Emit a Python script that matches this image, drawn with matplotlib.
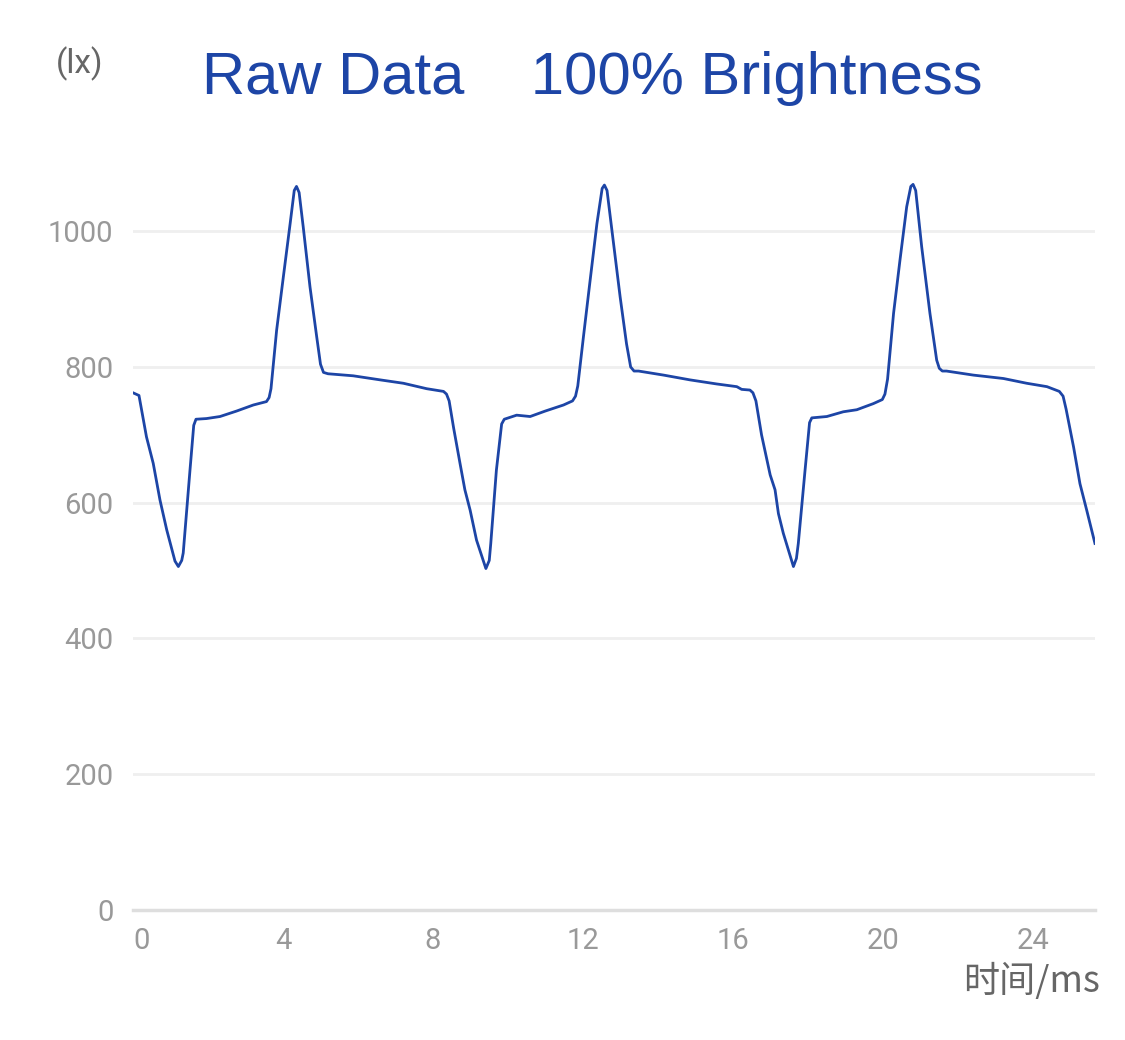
import matplotlib.pyplot as plt

# Time (ms) and illuminance (lx)
time_ms = [0.00, 0.16, 0.36, 0.54, 0.72, 0.90, 1.12, 1.21, 1.30, 1.34, 1.52, 1.62, 1.68,
           1.96, 2.32, 2.76, 3.21, 3.56, 3.63, 3.68, 3.83, 4.01, 4.19, 4.30, 4.36, 4.43,
           4.54, 4.72, 4.90, 5.00, 5.08, 5.20, 5.87, 6.59, 7.21, 7.83, 8.28, 8.36, 8.43,
           8.55, 8.72, 8.85, 8.99, 9.16, 9.41, 9.50, 9.54, 9.69, 9.83, 9.90, 10.23, 10.59,
           10.99, 11.48, 11.72, 11.80, 11.86, 12.01, 12.19, 12.37, 12.51, 12.57, 12.64, 12.76,
           12.99, 13.16, 13.27, 13.36, 13.48, 14.15, 14.85, 15.56, 16.10, 16.23, 16.45, 16.53,
           16.61, 16.76, 16.99, 17.12, 17.21, 17.34, 17.61, 17.69, 17.74, 17.92, 18.04, 18.10,
           18.50, 18.94, 19.30, 19.74, 19.98, 20.05, 20.12, 20.28, 20.45, 20.63, 20.74, 20.80,
           20.87, 21.03, 21.25, 21.43, 21.50, 21.58, 21.69, 22.41, 23.21, 23.83, 24.37, 24.70,
           24.80, 24.88, 25.08, 25.25, 25.43, 25.65]
lux = [762, 758, 697, 658, 604, 560, 514, 506, 515, 526, 648, 714, 723,
       724, 727, 735, 744, 749, 755, 768, 854, 933, 1011, 1060, 1066, 1057,
       1006, 918, 844, 804, 792, 790, 787, 781, 776, 768, 764, 760, 750,
       710, 658, 619, 589, 545, 503, 515, 540, 648, 716, 723, 729, 727,
       735, 744, 750, 757, 772, 844, 928, 1011, 1063, 1068, 1060, 1006,
       903, 834, 800, 794, 794, 788, 781, 775, 771, 767, 766, 762,
       750, 700, 641, 619, 584, 555, 506, 518, 540, 648, 718, 725,
       727, 734, 737, 746, 752, 760, 782, 879, 957, 1036, 1066, 1069,
       1060, 977, 879, 810, 798, 794, 794, 788, 783, 776, 771, 764,
       757, 738, 682, 628, 589, 540]

y_ticks = [0, 200, 400, 600, 800, 1000]
x_ticks = [0, 4, 8, 12, 16, 20, 24]

blue = '#1d45a6'

fig = plt.figure(figsize=(11.25, 10.4), dpi=100)
ax = fig.add_axes([0.1182, 0.125, 0.8551, 0.731])

ax.plot(time_ms, lux, color=blue, linewidth=2.0, solid_joinstyle='round')

ax.set_xlim(0, 25.65)
ax.set_ylim(0, 1120)
ax.set_yticks(y_ticks)
ax.set_xticks(x_ticks)
ax.tick_params(length=0, labelsize=21, labelcolor='#999999')
ax.tick_params(axis='y', pad=14)
ax.tick_params(axis='x', pad=12)
for lab in ax.get_xticklabels() + ax.get_yticklabels():
    lab.set_family('Roboto')
ax.get_xticklabels()[0].set_horizontalalignment('left')

ax.grid(axis='y', color='#efefef', linewidth=2)
ax.set_axisbelow(True)
for side in ['top', 'right', 'left']:
    ax.spines[side].set_visible(False)
ax.spines['bottom'].set_color('#dedede')
ax.spines['bottom'].set_linewidth(2.5)

fig.text(0.526, 0.925, 'Raw Data    100% Brightness', ha='center', va='center',
         fontsize=43, color=blue, family='Liberation Sans')
fig.text(0.0705, 0.939, '(lx)', ha='center', va='center', fontsize=24,
         color='#666666', family='Roboto')
fig.text(0.978, 0.056, '时间/ms', ha='right', va='center', fontsize=26,
         color='#666666', family=['Noto Sans CJK SC', 'DejaVu Sans'])

fig.savefig('out.png', dpi=100)
